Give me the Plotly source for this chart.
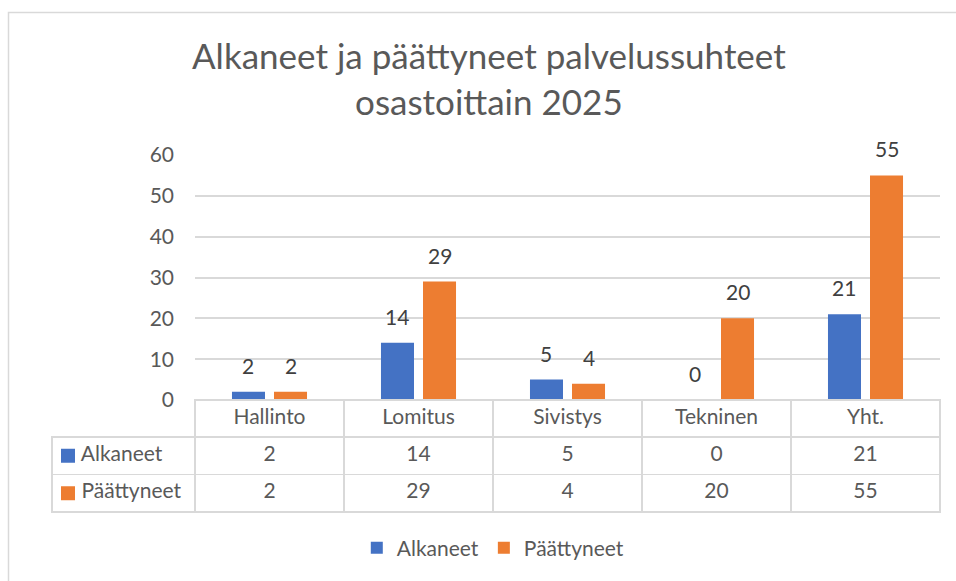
import plotly.graph_objects as go

categories = ["Hallinto", "Lomitus", "Sivistys", "Tekninen", "Yht."]
alkaneet = [2, 14, 5, 0, 21]
paattyneet = [2, 29, 4, 20, 55]
series_names = ["Alkaneet", "Päättyneet"]
colors = ["#4472C4", "#ED7D31"]
title_text = "Alkaneet ja päättyneet palvelussuhteet<br>osastoittain 2025"

W, H = 956, 581
FONT = "Lato"
GRAY = "#595959"
GRID = "#D9D9D9"
FS = 21
BARGAP, GROUPGAP = 0.436, 0.214

# table geometry (pixels)
T_LEFT, T_RIGHT, T_TOP = 52, 940, 400
HEAD_H, ROW_H = 37, 37.5
LABEL_W, COL_W = 143, 149

series_vals = [alkaneet, paattyneet]
fig = go.Figure()
for name, vals, col in zip(series_names, series_vals, colors):
    fig.add_trace(go.Bar(
        x=categories, y=vals, name=name, marker=dict(color=col, line=dict(width=0)),
        cliponaxis=False, xaxis="x", yaxis="y",
    ))

# value labels above the bars
annotations = []
slot = (1 - BARGAP) / len(series_vals)
for s, vals in enumerate(series_vals):
    off = (s - (len(series_vals) - 1) / 2) * slot
    for i, v in enumerate(vals):
        annotations.append(dict(
            x=i + off, y=v, xref="x", yref="y", text=str(v), showarrow=False,
            xanchor="center", yanchor="bottom", yshift=12,
            font=dict(size=FS, color="#404040", family=FONT)))

# data table below the axis
n = len(categories)
label_cells = ["\u00a0\u00a0\u00a0\u00a0" + nm for nm in series_names]
cols = [label_cells] + [[str(a), str(p)] for a, p in zip(alkaneet, paattyneet)]
t_bottom = T_TOP + HEAD_H + ROW_H * len(series_names)
fig.add_trace(go.Table(
    domain=dict(x=[T_LEFT / W, T_RIGHT / W], y=[(H - t_bottom - 2) / H, (H - T_TOP) / H]),
    columnwidth=[LABEL_W] + [COL_W] * n,
    header=dict(values=[""] + categories, height=HEAD_H,
                fill=dict(color=["rgba(0,0,0,0)"] + ["white"] * n),
                line=dict(color=["rgba(0,0,0,0)"] + [GRID] * n, width=1.5),
                font=dict(size=FS, color=GRAY, family=FONT), align="center"),
    cells=dict(values=cols, height=ROW_H,
               fill=dict(color="white"),
               line=dict(color=GRID, width=1.5),
               font=dict(size=FS, color=GRAY, family=FONT),
               align=["left"] + ["center"] * n),
))

# legend keys inside the table's label column
shapes = []
SQ = 14
for r, c in enumerate(colors):
    cy = T_TOP + HEAD_H + (r + 0.5) * ROW_H
    shapes.append(dict(type="rect", xref="paper", yref="paper",
                       x0=(T_LEFT + 9) / W, x1=(T_LEFT + 9 + SQ) / W,
                       y0=(H - cy - SQ / 2) / H, y1=(H - cy + SQ / 2) / H,
                       fillcolor=c, line=dict(width=0), layer="above"))
# chart border
shapes.append(dict(type="rect", xref="paper", yref="paper", x0=8.5 / W, x1=1.2,
                   y0=-0.2, y1=1 - 12.5 / H, line=dict(color=GRID, width=1.5),
                   fillcolor="rgba(0,0,0,0)", layer="below"))

annotations.append(dict(text=title_text, x=489 / W, y=1 - 78 / H, xref="paper", yref="paper",
                        xanchor="center", yanchor="middle", showarrow=False,
                        font=dict(size=35, color=GRAY, family=FONT)))

fig.update_layout(
    width=W, height=H, margin=dict(l=0, r=0, t=0, b=0, autoexpand=False),
    paper_bgcolor="white", plot_bgcolor="white",
    font=dict(family=FONT, color=GRAY, size=FS),
    barmode="group", bargap=BARGAP, bargroupgap=GROUPGAP,
    xaxis=dict(domain=[195 / W, T_RIGHT / W], showticklabels=False, ticks="",
               showgrid=False, showline=False, zeroline=False, automargin=False),
    yaxis=dict(domain=[(H - T_TOP) / H, (H - 155) / H], range=[0, 60], dtick=10,
               showgrid=True, gridcolor=GRID, gridwidth=1.5, zeroline=False,
               showline=False, ticks="", ticklabelstandoff=20, automargin=False,
               tickfont=dict(size=FS, color=GRAY, family=FONT)),
    legend=dict(orientation="h", x=0.516, xanchor="center", y=(H - 548) / H,
                yanchor="middle", font=dict(size=FS, color=GRAY, family=FONT),
                traceorder="normal"),
    showlegend=True,
    annotations=annotations,
    shapes=shapes,
)

fig.write_html("out.html", config={"displayModeBar": False},
               post_script="document.body.style.margin='0';")
